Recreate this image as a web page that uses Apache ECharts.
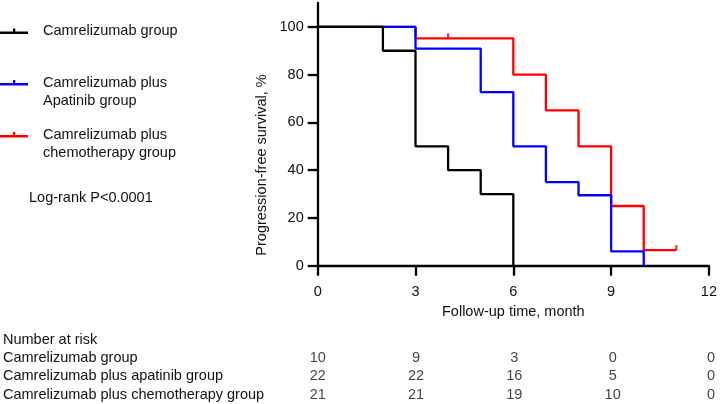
<!DOCTYPE html>
<html>
<head>
<meta charset="utf-8">
<script src="https://cdn.jsdelivr.net/npm/echarts@6/dist/echarts.min.js"></script>
<style>
  html, body { margin: 0; padding: 0; background: #fff; }
  #main { width: 720px; height: 404px; }
</style>
</head>
<body>
<div id="main"></div>
<script>
// survival curves, [month, %] - each value holds until the next point
let camreOnly = [[0, 100], [2, 90], [3, 50], [4, 40], [5, 30], [6, 0]];
let camreApat = [[0, 100], [3, 90.9], [5, 72.7], [6, 50], [7, 35], [8, 29.5], [9, 6], [10, 0]];
let camreChemo = [[0, 100], [3, 95.2], [6, 80], [7, 65], [8, 50], [9, 25], [10, 6.5], [11, 6.5]];
let chemoCensor = [[4, 95.2], [11, 6.5]];

// number at risk table
let riskTimes = [0, 3, 6, 9, 12];
let riskGroups = ['Camrelizumab group', 'Camrelizumab plus apatinib group', 'Camrelizumab plus chemotherapy group'];
let riskCamre = [10, 9, 3, 0, 0];
let riskApat = [22, 22, 16, 5, 0];
let riskChemo = [21, 21, 19, 10, 0];

let yTicks = [0, 20, 40, 60, 80, 100];

let font = "'Liberation Sans', Arial, sans-serif";
let txt = '#111';
let fs = 14.5;

let riskData = [];
[riskCamre, riskApat, riskChemo].forEach(function (row, r) {
    row.forEach(function (n, i) {
        riskData.push([riskTimes[i], r, n]);
    });
});

let legendIcon = 'path://M0,3H28V5.3H0Z M13,0H15.3V3H13Z';

// two line names get an empty line in front so the icon sits on the first line
function legendAt(name, top, multi) {
    return {
        data: [name],
        left: 0,
        top: top,
        padding: 0,
        itemWidth: 28,
        itemHeight: 5.3,
        icon: legendIcon,
        selectedMode: false,
        formatter: function (n) {
            return multi ? '\n' + n.replace(' plus ', ' plus\n') : n;
        },
        textStyle: {
            fontFamily: font,
            fontSize: fs,
            color: txt,
            lineHeight: 18.5,
            padding: [0, 0, 0, 10]
        }
    };
}

let myChart = echarts.init(document.getElementById('main'));

let option = {
    animation: false,
    backgroundColor: '#fff',
    textStyle: {fontFamily: font},
    legend: [
        legendAt('Camrelizumab group', 22, false),
        legendAt('Camrelizumab plus Apatinib group', 55, true),
        legendAt('Camrelizumab plus chemotherapy group', 107, true)
    ],
    grid: [
        {left: 317.7, right: 9, top: 3, bottom: 138.3},
        {left: 317.7, right: 9, top: 348.5, height: 57}
    ],
    xAxis: [
        {
            type: 'value',
            gridIndex: 0,
            min: 0,
            max: 12,
            interval: 3,
            name: 'Follow-up time, month',
            nameLocation: 'middle',
            nameGap: 39,
            nameTextStyle: {fontFamily: font, fontSize: fs, color: txt},
            splitLine: {show: false},
            axisLine: {lineStyle: {color: '#000', width: 2.3}},
            axisTick: {length: 10, lineStyle: {color: '#000', width: 2.3}},
            axisLabel: {fontFamily: font, fontSize: fs, color: txt, margin: 19}
        },
        {
            type: 'value',
            gridIndex: 1,
            min: 0,
            max: 12,
            show: false
        }
    ],
    yAxis: [
        {
            type: 'value',
            gridIndex: 0,
            min: 0,
            max: 110,
            interval: 10,
            splitLine: {show: false},
            axisLine: {show: true, lineStyle: {color: '#000', width: 2.3}},
            axisTick: {show: true, length: 10, customValues: yTicks, lineStyle: {color: '#000', width: 2.3}},
            axisLabel: {fontFamily: font, fontSize: fs, color: txt, margin: 14, customValues: yTicks}
        },
        {
            type: 'category',
            gridIndex: 1,
            data: riskGroups,
            inverse: true,
            axisLine: {show: false},
            axisTick: {show: false},
            splitLine: {show: false},
            axisLabel: {
                interval: 0,
                fontFamily: font,
                fontSize: fs,
                color: txt,
                align: 'left',
                margin: 314.7
            }
        }
    ],
    graphic: [
        {
            type: 'text',
            x: 262,
            y: 165,
            rotation: Math.PI / 2,
            style: {
                text: 'Progression-free survival, %',
                font: fs + 'px ' + font,
                fill: txt,
                textAlign: 'center',
                textVerticalAlign: 'middle'
            }
        },
        {
            type: 'text',
            x: 29,
            y: 198,
            style: {
                text: 'Log-rank P<0.0001',
                font: fs + 'px ' + font,
                fill: txt,
                textVerticalAlign: 'middle'
            }
        },
        {
            type: 'text',
            x: 3,
            y: 340,
            style: {
                text: 'Number at risk',
                font: fs + 'px ' + font,
                fill: txt,
                textVerticalAlign: 'middle'
            }
        }
    ],
    series: [
        {
            name: 'Camrelizumab plus chemotherapy group',
            type: 'line',
            step: 'end',
            symbol: 'none',
            color: '#ff0000',
            lineStyle: {color: '#ff0000', width: 2.3},
            data: camreChemo
        },
        {
            name: 'Camrelizumab plus Apatinib group',
            type: 'line',
            step: 'end',
            symbol: 'none',
            color: '#0000ff',
            lineStyle: {color: '#0000ff', width: 2.3},
            data: camreApat
        },
        {
            name: 'Camrelizumab group',
            type: 'line',
            step: 'end',
            symbol: 'none',
            color: '#000000',
            lineStyle: {color: '#000000', width: 2.3},
            data: camreOnly
        },
        {
            name: 'censor',
            type: 'scatter',
            symbol: 'rect',
            symbolSize: [2.3, 5],
            symbolOffset: [0, -2.5],
            itemStyle: {color: '#ff0000'},
            data: chemoCensor
        },
        {
            name: 'risk',
            type: 'scatter',
            xAxisIndex: 1,
            yAxisIndex: 1,
            symbolSize: 1,
            itemStyle: {color: 'rgba(0,0,0,0)'},
            label: {
                show: true,
                position: 'inside',
                fontFamily: font,
                fontSize: fs,
                color: txt,
                formatter: function (p) {
                    return String(p.value[2]);
                }
            },
            data: riskData
        }
    ]
};

myChart.setOption(option);
</script>
</body>
</html>
